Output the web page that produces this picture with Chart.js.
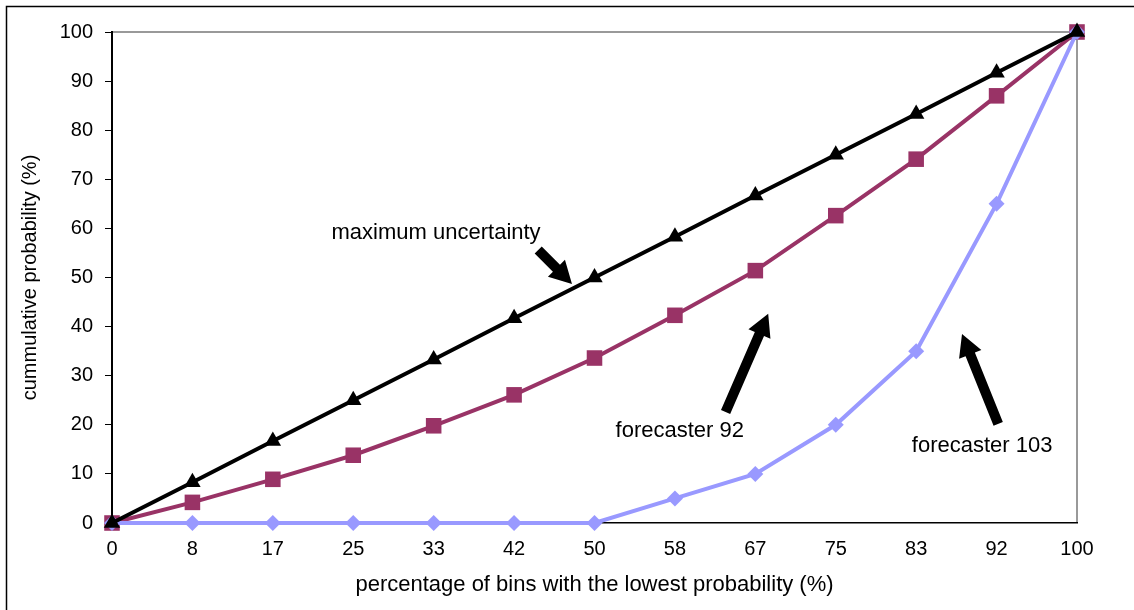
<!DOCTYPE html>
<html>
<head>
<meta charset="utf-8">
<script src="https://cdn.jsdelivr.net/npm/chart.js@4/dist/chart.umd.min.js"></script>
<style>
  html, body { margin: 0; padding: 0; background: #fff; }
  #wrap { width: 1134px; height: 610px; position: relative; }
</style>
</head>
<body>
<div id="wrap"><canvas id="c" width="1134" height="610"></canvas></div>
<script>
// ---- data ----
const categories = ['0','8','17','25','33','42','50','58','67','75','83','92','100'];
const maxUncertainty = [0, 8.3, 16.7, 25, 33.3, 41.7, 50, 58.3, 66.7, 75, 83.3, 91.7, 100];
const forecaster92 = [0, 4.2, 8.9, 13.8, 19.8, 26.1, 33.6, 42.3, 51.4, 62.6, 74.1, 87, 100];
const forecaster103 = [0, 0, 0, 0, 0, 0, 0, 5, 10, 20, 35, 65, 100];
const yTicks = [0, 10, 20, 30, 40, 50, 60, 70, 80, 90, 100];

// annotations in data coordinates (category index, value)
const notes = [
  { text: 'maximum uncertainty', x: 4.03, y: 59.1 },
  { text: 'forecaster 92', x: 7.06, y: 18.7 },
  { text: 'forecaster 103', x: 10.82, y: 15.7 }
];
const arrows = [
  { x1: 5.30, y1: 55.6, x2: 5.72, y2: 48.7 },
  { x1: 7.63, y1: 22.6, x2: 8.16, y2: 42.6 },
  { x1: 11.02, y1: 20.2, x2: 10.57, y2: 38.5 }
];

const FONT = 'Liberation Sans, Arial, sans-serif';

const framePlugin = {
  id: 'frame',
  beforeDraw(chart) {
    const ctx = chart.ctx;
    ctx.save();
    ctx.strokeStyle = '#000';
    ctx.lineWidth = 1.5;
    ctx.beginPath();
    ctx.moveTo(6.5, 610);
    ctx.lineTo(6.5, 6.5);
    ctx.lineTo(1134, 6.5);
    ctx.stroke();
    const a = chart.chartArea;
    ctx.strokeStyle = '#999999';
    ctx.lineWidth = 2;
    ctx.beginPath();
    ctx.moveTo(a.left, a.top);
    ctx.lineTo(a.right, a.top);
    ctx.lineTo(a.right, a.bottom);
    ctx.stroke();
    ctx.restore();
  },
  afterDatasetsDraw(chart) {
    const ctx = chart.ctx;
    const xs = chart.scales.x, ys = chart.scales.y;
    ctx.save();
    ctx.fillStyle = '#000';
    ctx.font = '22px ' + FONT;
    ctx.textAlign = 'center';
    ctx.textBaseline = 'middle';
    notes.forEach(n => {
      ctx.fillText(n.text, xs.getPixelForValue(n.x), ys.getPixelForValue(n.y));
    });
    arrows.forEach(a => {
      const x1 = xs.getPixelForValue(a.x1), y1 = ys.getPixelForValue(a.y1);
      const x2 = xs.getPixelForValue(a.x2), y2 = ys.getPixelForValue(a.y2);
      const ang = Math.atan2(y2 - y1, x2 - x1);
      const len = Math.hypot(x2 - x1, y2 - y1);
      const headL = 22, headW = 12, shaftW = 5;
      ctx.save();
      ctx.translate(x1, y1);
      ctx.rotate(ang);
      ctx.beginPath();
      ctx.moveTo(0, -shaftW);
      ctx.lineTo(len - headL, -shaftW);
      ctx.lineTo(len - headL, -headW);
      ctx.lineTo(len, 0);
      ctx.lineTo(len - headL, headW);
      ctx.lineTo(len - headL, shaftW);
      ctx.lineTo(0, shaftW);
      ctx.closePath();
      ctx.fill();
      ctx.restore();
    });
    ctx.restore();
  }
};

new Chart(document.getElementById('c'), {
  type: 'line',
  data: {
    labels: categories,
    datasets: [
      {
        label: 'maximum uncertainty',
        data: maxUncertainty,
        borderColor: '#000000',
        backgroundColor: '#000000',
        borderWidth: 4,
        pointStyle: 'triangle',
        pointRadius: 9.5,
        pointBorderWidth: 0,
        tension: 0,
        order: 0,
        clip: false
      },
      {
        label: 'forecaster 103',
        data: forecaster103,
        borderColor: '#9999FF',
        backgroundColor: '#9999FF',
        borderWidth: 4,
        pointStyle: 'rectRot',
        pointRadius: 8,
        pointBorderWidth: 0,
        tension: 0,
        order: 1,
        clip: false
      },
      {
        label: 'forecaster 92',
        data: forecaster92,
        borderColor: '#993366',
        backgroundColor: '#993366',
        borderWidth: 4,
        pointStyle: 'rect',
        pointRadius: 11,
        pointBorderWidth: 0,
        tension: 0,
        order: 2,
        clip: false
      }
    ]
  },
  options: {
    responsive: false,
    animation: false,
    devicePixelRatio: 1,
    layout: { padding: { top: 32, right: 57, left: 0, bottom: 0 } },
    plugins: { legend: { display: false }, tooltip: { enabled: false } },
    scales: {
      x: {
        type: 'category',
        offset: false,
        grid: { display: true, drawOnChartArea: false, drawTicks: false },
        border: { display: true, color: '#000', width: 1.5 },
        ticks: { color: '#000', font: { family: FONT, size: 20 }, padding: 14, maxRotation: 0, autoSkip: false },
        title: {
          display: true,
          text: 'percentage of bins with the lowest probability (%)',
          color: '#000',
          font: { family: FONT, size: 22 },
          padding: { top: 0, bottom: 12 }
        },
        afterFit(scale) { scale.height = 87; }
      },
      y: {
        min: 0, max: 100,
        afterBuildTicks(scale) { scale.ticks = yTicks.map(v => ({ value: v })); },
        grid: { display: true, drawOnChartArea: false, drawTicks: true, tickLength: 7, tickColor: '#000', tickWidth: 1 },
        border: { display: true, color: '#000', width: 2 },
        ticks: { color: '#000', font: { family: FONT, size: 20 }, padding: 12 },
        title: {
          display: true,
          text: 'cummulative probability (%)',
          color: '#000',
          font: { family: FONT, size: 20 },
          padding: { top: 18, bottom: 0 }
        },
        afterFit(scale) { scale.width = 112; }
      }
    }
  },
  plugins: [framePlugin]
});
</script>
</body>
</html>
